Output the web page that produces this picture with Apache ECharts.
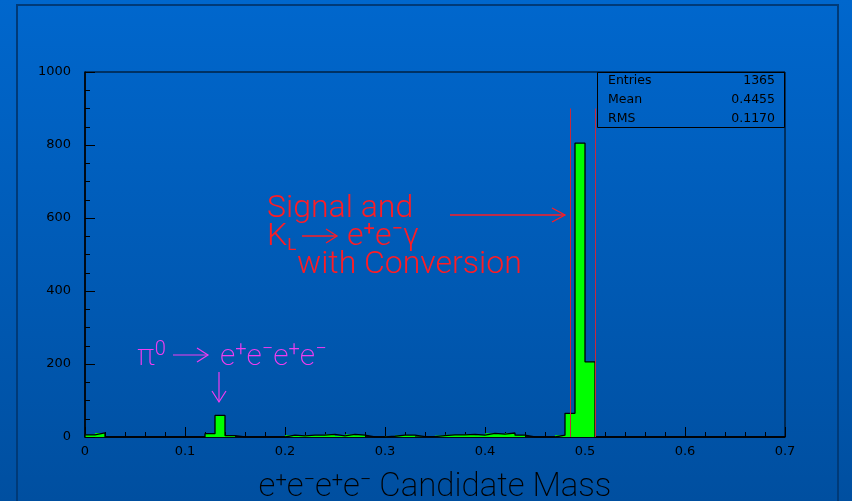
<!DOCTYPE html>
<html><head><meta charset="utf-8">
<script src="https://cdn.jsdelivr.net/npm/echarts@6/dist/echarts.min.js"></script>
<style>html,body{margin:0;padding:0;background:#005cb8;}#c{width:852px;height:501px;}</style>
</head><body><div id="c"></div>
<script>
// ---- data ----
const binStart = 0;
const binWidth = 0.01;
const counts = [
  6, 11, 0, 0, 0, 0, 0, 0, 0, 0,
  0, 0, 9, 59, 4, 0, 0, 0, 0, 0,
  5, 3, 5, 5, 7, 3, 7, 5, 0, 0,
  2, 5, 5, 1, 1, 4, 6, 6, 7, 5,
  10, 8, 11, 5, 0, 0, 0, 5, 65, 805,
  206, 0, 0, 0, 0, 0, 0, 0, 0, 0,
  0, 0, 0, 0, 0, 0, 0, 0, 0, 0
];
const xTickLabels = ['0', '0.1', '0.2', '0.3', '0.4', '0.5', '0.6', '0.7'];
const yTickLabels = ['0', '200', '400', '600', '800', '1000'];
const statLabels = ['Entries', 'Mean', 'RMS'];
const statValues = ['1365', '0.4455', '0.1170'];
const cutLines = [0.485, 0.51];
const cutTop = 900;

// ---- chart ----
const chart = echarts.init(document.getElementById('c'), null, {renderer: 'canvas'});
const fillData = counts.map((v, i) => [binStart + i * binWidth, binStart + (i + 1) * binWidth, v]);
const outline = [[binStart, 0]];
counts.forEach((v, i) => outline.push([binStart + i * binWidth, v]));
outline.push([binStart + counts.length * binWidth, 0]);

const thin = 'Roboto';
const RED = '#ff1c24';
const MAG = '#f23cf0';

function mkRich(col, base, sup, sub, w, ws) {
  return {
    n: {fontFamily: thin, fontWeight: w, fontSize: base, lineHeight: 34, fill: col, color: col},
    p: {fontFamily: thin, fontWeight: ws, fontSize: sup, lineHeight: 14, verticalAlign: 'top', fill: col, color: col},
    s: {fontFamily: thin, fontWeight: ws, fontSize: sub, lineHeight: 18, verticalAlign: 'bottom', fill: col, color: col}
  };
}

const graphic = [
  {type: 'rect', z: -100, silent: true, shape: {x: 0, y: 0, width: 852, height: 501},
   style: {fill: new echarts.graphic.LinearGradient(0, 0, 0, 1, [
     {offset: 0, color: '#0067cd'}, {offset: 1, color: '#004fa0'}])}},
  {type: 'rect', z: -90, silent: true, shape: {x: 17, y: 5, width: 821, height: 540},
   style: {fill: 'none', stroke: '#003a78', lineWidth: 2}},
  // stats box
  {type: 'rect', z: 50, shape: {x: 597.5, y: 72.5, width: 187, height: 55},
   style: {fill: 'none', stroke: '#000', lineWidth: 1}}
];
statLabels.forEach((s, i) => {
  graphic.push({type: 'text', z: 50, x: 608, y: 81 + i * 18.7,
    style: {text: s, fill: '#000', font: '12.5px "DejaVu Sans"', verticalAlign: 'middle', align: 'left'}});
  graphic.push({type: 'text', z: 50, x: 775, y: 81 + i * 18.7,
    style: {text: statValues[i], fill: '#000', font: '12.5px "DejaVu Sans"', verticalAlign: 'middle', align: 'right'}});
});
const richRed = mkRich(RED, 32, 20, 17, 300, 400);
const richMag = mkRich(MAG, 30, 20, 17, 200, 300);
// red annotation
graphic.push(
  {type: 'text', z: 60, x: 267, y: 209, style: {text: 'Signal and', fill: RED, fontFamily: thin, fontWeight: 300, fontSize: 32, verticalAlign: 'middle'}},
  {type: 'text', z: 60, x: 267, y: 237, style: {text: '{n|K}{s|L}', rich: richRed, fill: RED, verticalAlign: 'middle'}},
  {type: 'text', z: 60, x: 347, y: 237, style: {text: '{n|e}{p|+}{n|e}{p|\u2212}{n|\u03b3}', rich: richRed, fill: RED, verticalAlign: 'middle'}},
  {type: 'text', z: 60, x: 297, y: 265, style: {text: 'with Conversion', fill: RED, fontFamily: thin, fontWeight: 300, fontSize: 32, verticalAlign: 'middle'}},
  {type: 'polyline', z: 60, shape: {points: [[302, 236], [337, 236]]}, style: {stroke: RED, lineWidth: 1.3, fill: 'none'}},
  {type: 'polyline', z: 60, shape: {points: [[326, 229], [337, 236], [326, 243]]}, style: {stroke: RED, lineWidth: 1.3, fill: 'none'}},
  {type: 'polyline', z: 60, shape: {points: [[450, 215], [565, 215]]}, style: {stroke: RED, lineWidth: 1.3, fill: 'none'}},
  {type: 'polyline', z: 60, shape: {points: [[552, 208], [565, 215], [552, 222]]}, style: {stroke: RED, lineWidth: 1.3, fill: 'none'}}
);
// magenta annotation
graphic.push(
  {type: 'text', z: 60, x: 137, y: 357, style: {text: '{n|\u03c0}{p|0}', rich: richMag, fill: MAG, verticalAlign: 'middle'}},
  {type: 'text', z: 60, x: 220, y: 357, style: {text: '{n|e}{p|+}{n|e}{p|\u2212}{n|e}{p|+}{n|e}{p|\u2212}', rich: richMag, fill: MAG, verticalAlign: 'middle'}},
  {type: 'polyline', z: 60, shape: {points: [[173, 355], [208, 355]]}, style: {stroke: MAG, lineWidth: 1.2, fill: 'none'}},
  {type: 'polyline', z: 60, shape: {points: [[197, 348], [208, 355], [197, 362]]}, style: {stroke: MAG, lineWidth: 1.2, fill: 'none'}},
  {type: 'polyline', z: 60, shape: {points: [[219, 372], [219, 402]]}, style: {stroke: MAG, lineWidth: 1.2, fill: 'none'}},
  {type: 'polyline', z: 60, shape: {points: [[212, 391], [219, 402], [226, 391]]}, style: {stroke: MAG, lineWidth: 1.2, fill: 'none'}}
);

const axisCommon = {
  axisLine: {show: true, onZero: false, lineStyle: {color: '#000', width: 1.5}},
  axisTick: {show: true, inside: true, length: 10, lineStyle: {color: '#000', width: 1}},
  splitLine: {show: false},
  minorSplitLine: {show: false}
};

const option = {
  animation: false,
  backgroundColor: 'transparent',
  graphic: graphic,
  grid: {left: 85, top: 72, width: 700, height: 365, show: true, borderColor: '#000', borderWidth: 1,
         backgroundColor: 'transparent', containLabel: false, outerBoundsMode: 'none'},
  xAxis: Object.assign({}, axisCommon, {
    type: 'value', min: 0, max: 0.7, interval: 0.1,
    minorTick: {show: true, splitNumber: 5, length: 5, lineStyle: {color: '#000', width: 1}},
    axisLabel: {color: '#000', fontFamily: 'DejaVu Sans', fontSize: 13, margin: 8,
      showMinLabel: true, showMaxLabel: true,
      formatter: v => xTickLabels[Math.round(v * 10)]},
    name: '{n|e}{p|+}{n|e}{p|\u2212}{n|e}{p|+}{n|e}{p|\u2212}{n| Candidate Mass}',
    nameLocation: 'middle', nameGap: 34,
    nameTextStyle: {rich: mkRich('#000', 33, 20, 17, 200, 300)}
  }),
  yAxis: Object.assign({}, axisCommon, {
    type: 'value', min: 0, max: 1000, interval: 200,
    minorTick: {show: true, splitNumber: 4, length: 5, lineStyle: {color: '#000', width: 1}},
    axisLabel: {color: '#000', fontFamily: 'DejaVu Sans', fontSize: 13, margin: 14,
      showMinLabel: true, showMaxLabel: true,
      formatter: v => yTickLabels[Math.round(v / 200)]}
  }),
  series: [
    {
      type: 'custom', z: 2,
      data: fillData,
      encode: {x: [0, 1], y: 2},
      renderItem: (params, api) => {
        const p0 = api.coord([api.value(0), api.value(2)]);
        const p1 = api.coord([api.value(1), 0]);
        return {type: 'rect', shape: {x: p0[0], y: p0[1], width: p1[0] - p0[0], height: p1[1] - p0[1]},
                style: {fill: '#00ff00'}};
      }
    },
    {
      type: 'line', z: 3, step: 'end', symbol: 'none', data: outline,
      lineStyle: {color: '#000', width: 1.3},
      markLine: {
        silent: true, symbol: 'none', label: {show: false},
        lineStyle: {color: '#c8283c', width: 1, type: 'solid'},
        data: cutLines.map(c => [{coord: [c, 0]}, {coord: [c, cutTop]}])
      }
    }
  ]
};
chart.setOption(option);
</script></body></html>
